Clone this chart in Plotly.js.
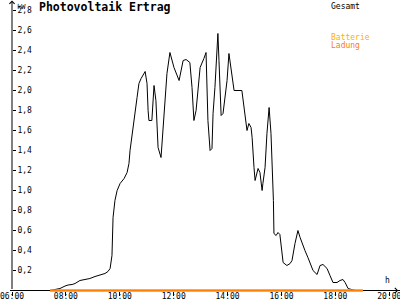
<!DOCTYPE html>
<html>
<head>
<meta charset="utf-8">
<script src="https://cdn.plot.ly/plotly-3.0.1.min.js"></script>
<style>html,body{margin:0;padding:0;background:#fff;}#chart{width:400px;height:300px;}</style>
</head>
<body>
<div id="chart"></div>
<script>
// Time of day in hours, power in kW
const timeGesamt = [7.41, 7.60, 7.78, 7.97, 8.08, 8.23, 8.34, 8.52, 8.71, 8.89, 9.08, 9.27, 9.45, 9.56, 9.64, 9.71, 9.73, 9.75, 9.82, 9.90,
  10.01, 10.16, 10.27, 10.34, 10.38, 10.45, 10.56, 10.64, 10.71, 10.79, 10.94, 11.01, 11.05, 11.08, 11.19, 11.27, 11.34, 11.38, 11.42, 11.53,
  11.60, 11.68, 11.75, 11.86, 12.01, 12.20, 12.35, 12.46, 12.60, 12.68, 12.75, 12.83, 12.90, 12.98, 13.12, 13.20, 13.27, 13.35, 13.42, 13.46,
  13.53, 13.57, 13.61, 13.64, 13.68, 13.72, 13.76, 13.83, 13.90, 13.98, 14.05, 14.13, 14.20, 14.24, 14.53, 14.61, 14.68, 14.72, 14.79, 14.87,
  14.91, 14.94, 14.98, 15.02, 15.09, 15.13, 15.20, 15.24, 15.28, 15.31, 15.39, 15.46, 15.54, 15.61, 15.68, 15.70, 15.72, 15.80, 15.87, 15.94,
  16.06, 16.20, 16.32, 16.39, 16.50, 16.61, 16.69, 16.76, 16.87, 16.98, 17.09, 17.17, 17.32, 17.43, 17.54, 17.69, 17.80, 17.91, 18.06, 18.17,
  18.28, 18.36, 18.47, 18.62, 18.73];
const powerGesamt = [0.00, 0.01, 0.02, 0.045, 0.055, 0.06, 0.07, 0.10, 0.11, 0.12, 0.14, 0.155, 0.17, 0.19, 0.22, 0.35, 0.53, 0.73, 0.90, 1.00,
  1.07, 1.12, 1.18, 1.27, 1.40, 1.53, 1.73, 1.93, 2.07, 2.12, 2.19, 2.07, 1.80, 1.70, 1.70, 2.05, 1.90, 1.70, 1.43, 1.33,
  1.60, 1.87, 2.17, 2.38, 2.23, 2.10, 2.30, 2.31, 2.28, 2.03, 1.70, 1.80, 2.03, 2.23, 2.32, 2.38, 1.70, 1.40, 1.42, 1.77,
  2.03, 2.27, 2.48, 2.57, 2.30, 2.00, 1.75, 1.77, 1.90, 2.10, 2.37, 2.20, 2.03, 2.00, 2.00, 1.85, 1.70, 1.60, 1.67, 1.63,
  1.53, 1.33, 1.23, 1.10, 1.20, 1.22, 1.18, 1.10, 1.00, 1.07, 1.23, 1.57, 1.83, 1.57, 1.10, 0.90, 0.57, 0.55, 0.58, 0.56,
  0.28, 0.25, 0.27, 0.30, 0.47, 0.60, 0.53, 0.47, 0.40, 0.33, 0.25, 0.20, 0.16, 0.25, 0.26, 0.22, 0.15, 0.08, 0.08, 0.10,
  0.11, 0.08, 0.02, 0.01, 0.00];
const timeBatterie = [7.41, 19.02];
const powerBatterie = [0, 0];
const timeLadung = [7.41, 19.02];
const powerLadung = [0, 0];

const xTickVals = [6, 8, 10, 12, 14, 16, 18, 20];
const xTickText = ["06:00", "08:00", "10:00", "12:00", "14:00", "16:00", "18:00", "20:00"];
const yTickVals = [0.2, 0.4, 0.6, 0.8, 1.0, 1.2, 1.4, 1.6, 1.8, 2.0, 2.2, 2.4, 2.6, 2.8];
const yTickText = ["0,2", "0,4", "0,6", "0,8", "1,0", "1,2", "1,4", "1,6", "1,8", "2,0", "2,2", "2,4", "2,6", "2,8"];

const titleText = "Photovoltaik Ertrag";
const unitY = "kW";
const unitX = "h";
const nameGesamt = "Gesamt";
const nameBatterie = "Batterie";
const nameLadung = "Ladung";

const colGesamt = "#000000";
const colBatterie = "#ffb000";
const colLadung = "#ff8000";

const mono = "DejaVu Sans Mono, Liberation Mono, monospace";
const xRange = [5.9258, 20.397];
const yRange = [-0.095, 2.905];
const xPos = 0.095 / 3.0;
const yPos = 12 / 400;

const traces = [
  {x: timeGesamt, y: powerGesamt, type: "scatter", mode: "lines", name: nameGesamt,
   line: {color: colGesamt, width: 1}, hoverinfo: "skip"},
  {x: timeBatterie, y: powerBatterie, type: "scatter", mode: "lines", name: nameBatterie,
   line: {color: colBatterie, width: 2}, hoverinfo: "skip"},
  {x: timeLadung, y: powerLadung, type: "scatter", mode: "lines", name: nameLadung,
   line: {color: colLadung, width: 2}, hoverinfo: "skip"}
];

const baseX = {range: xRange, domain: [0.025, 1], showgrid: false, zeroline: false, showline: false,
  anchor: "free", position: xPos, tickvals: xTickVals, tickcolor: "#000", tickwidth: 1, fixedrange: true};
const baseY = {range: yRange, domain: [0, 1], showgrid: false, showline: false,
  anchor: "free", position: yPos, side: "left", tickvals: yTickVals, tickcolor: "#000", tickwidth: 1, fixedrange: true};

const layout = {
  width: 400, height: 300,
  margin: {l: 0, r: 0, t: 0, b: 0, pad: 0},
  paper_bgcolor: "#fff", plot_bgcolor: "#fff",
  showlegend: false,
  separators: ",.",
  title: {text: "<b>" + titleText + "</b>", x: 39 / 400, xanchor: "left", xref: "container",
          y: 1 - 3 / 300, yanchor: "top", yref: "container",
          font: {family: mono, size: 11.5, color: "#000"}},
  xaxis: Object.assign({}, baseX, {ticks: "outside", ticklen: 4, ticktext: xTickText, ticklabelstandoff: -6,
    tickfont: {family: mono, size: 8, color: "#000"}, ticklabeloverflow: "allow"}),
  xaxis2: Object.assign({}, baseX, {overlaying: "x", ticks: "inside", ticklen: 3, showticklabels: false}),
  yaxis: Object.assign({}, baseY, {ticks: "inside", ticklen: 3, ticktext: yTickText, ticklabelposition: "inside",
    tickfont: {family: mono, size: 8, color: "#000"}, ticklabeloverflow: "allow",
    zeroline: true, zerolinecolor: "#000", zerolinewidth: 1}),
  yaxis2: Object.assign({}, baseY, {overlaying: "y", ticks: "outside", ticklen: 3, showticklabels: false, zeroline: false}),
  annotations: [
    {x: 6, y: 2.9, ax: 6, ay: 0, xref: "x", yref: "y", axref: "x", ayref: "y", text: "",
     showarrow: true, arrowhead: 4, arrowsize: 1, arrowwidth: 1, arrowcolor: "#000", standoff: 0, startstandoff: 0},
    {x: 20.33, y: 0, ax: 19.9, ay: 0, xref: "x", yref: "y", axref: "x", ayref: "y", text: "",
     showarrow: true, arrowhead: 4, arrowsize: 1, arrowwidth: 1, arrowcolor: "#000", standoff: 0, startstandoff: 0},
    {x: 15 / 400, y: 1 - 1 / 300, xref: "paper", yref: "paper", xanchor: "left", yanchor: "top", showarrow: false,
     text: unitY, font: {family: mono, size: 7, color: "#000"}},
    {x: 383 / 400, y: 1 - 274 / 300, xref: "paper", yref: "paper", xanchor: "left", yanchor: "top", showarrow: false,
     text: unitX, font: {family: mono, size: 8, color: "#000"}},
    {x: 329 / 400, y: 1 - 0 / 300, xref: "paper", yref: "paper", xanchor: "left", yanchor: "top", showarrow: false,
     text: nameGesamt, font: {family: mono, size: 8, color: colGesamt}},
    {x: 329 / 400, y: 1 - 31 / 300, xref: "paper", yref: "paper", xanchor: "left", yanchor: "top", showarrow: false,
     text: nameBatterie, font: {family: mono, size: 8, color: colBatterie}},
    {x: 329 / 400, y: 1 - 39 / 300, xref: "paper", yref: "paper", xanchor: "left", yanchor: "top", showarrow: false,
     text: nameLadung, font: {family: mono, size: 8, color: colLadung}}
  ]
};

Plotly.newPlot("chart", traces, layout, {staticPlot: true, displayModeBar: false});
</script>
</body>
</html>
